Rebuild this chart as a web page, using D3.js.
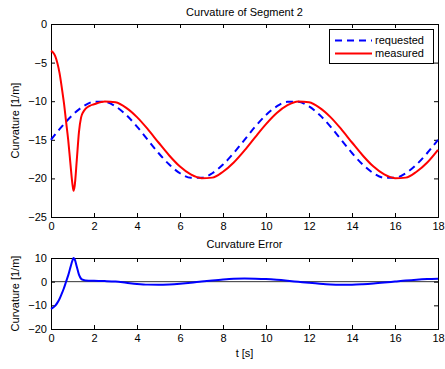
<!DOCTYPE html>
<html>
<head>
<meta charset="utf-8">
<script src="https://cdn.jsdelivr.net/npm/d3@7"></script>
<style>
  body { margin: 0; background: #fff; }
  text { font-family: "Liberation Sans", Arial, sans-serif; }
</style>
</head>
<body>
<script>
// values
const reqTime = [0, 0.5, 1, 1.5, 2, 2.5, 3, 3.5, 4, 4.5, 5, 5.5, 6, 6.5, 7, 7.5, 8, 8.5, 9,
  9.5, 10, 10.5, 11, 11.5, 12, 12.5, 13, 13.5, 14, 14.5, 15, 15.5, 16, 16.5, 17, 17.5, 18]
const requested = [-15, -13.29, -11.79, -10.67, -10.08, -10.08, -10.67, -11.79, -13.29, -15,
  -16.71, -18.21, -19.33, -19.92, -19.92, -19.33, -18.21, -16.71, -15, -13.29, -11.79, -10.67,
  -10.08, -10.08, -10.67, -11.79, -13.29, -15, -16.71, -18.21, -19.33, -19.92, -19.92, -19.33,
  -18.21, -16.71, -15]

const measTime = [0, 0.1, 0.2, 0.3, 0.4, 0.5, 0.6, 0.7, 0.8, 0.9, 1.0, 1.05, 1.1, 1.2, 1.3, 1.4,
  1.5, 1.6, 1.8, 2.0, 2.5, 3, 3.5, 4, 4.5, 5, 5.5, 6, 6.5, 7, 7.5, 8, 8.5, 9, 9.5, 10, 10.5, 11,
  11.5, 12, 12.5, 13, 13.5, 14, 14.5, 15, 15.5, 16, 16.5, 17, 17.5, 18]
const measured = [-3.5, -3.7, -4.2, -5.1, -6.4, -8.2, -10.2, -12.6, -15.0, -18.0, -20.8, -21.6,
  -21.0, -17.6, -14.0, -12.1, -11.4, -11.0, -10.6, -10.4, -10.03, -10.15, -10.86, -12.06, -13.62,
  -15.35, -17.03, -18.47, -19.49, -19.97, -19.9, -19.14, -17.94, -16.38, -14.65, -12.97, -11.53,
  -10.51, -10.03, -10.15, -10.86, -12.06, -13.62, -15.35, -17.03, -18.47, -19.49, -19.97, -19.9,
  -19.14, -17.94, -16.3]

const errTime = measTime
const curvError = [-11.5, -10.95, -10.1, -8.86, -7.22, -5.09, -2.77, -0.05, 2.65, 5.94, 9.01, 9.95,
  9.47, 6.32, 2.94, 1.24, 0.73, 0.49, 0.4, 0.35, 0.25, 0.05, -0.45, -0.95, -1.25, -1.3, -1.15,
  -0.85, -0.45, 0.05, 0.5, 0.9, 1.2, 1.3, 1.25, 1.1, 0.8, 0.4, -0.05, -0.5, -0.9, -1.2, -1.3,
  -1.28, -1.1, -0.8, -0.4, 0.05, 0.5, 0.85, 1.1, 1.25]

const xTicks = d3.range(0, 19, 2)
const topYTicks = [-25, -20, -15, -10, -5, 0]
const botYTicks = [-20, -10, 0, 10]

const W = 445, H = 369
const left = 51, right = 438

const svg = d3.select('body').append('svg')
  .attr('width', W)
  .attr('height', H)

const x = d3.scaleLinear().domain([0, 18]).range([left, right])
const yTop = d3.scaleLinear().domain([-25, 0]).range([217, 24])
const yBot = d3.scaleLinear().domain([-20, 10]).range([329, 258])

// draw one matlab-style box with ticks on all sides
function drawFrame(y, yTicks) {
  const top = y.range()[1], bottom = y.range()[0]
  const g = svg.append('g')

  g.append('g')
    .attr('transform', 'translate(0,' + bottom + ')')
    .call(d3.axisBottom(x).tickValues(xTicks).tickSize(-4).tickPadding(5).tickFormat(d3.format('d')))
  g.append('g')
    .attr('transform', 'translate(0,' + top + ')')
    .call(d3.axisTop(x).tickValues(xTicks).tickSize(-4).tickFormat(''))
  g.append('g')
    .attr('transform', 'translate(' + left + ',0)')
    .call(d3.axisLeft(y).tickValues(yTicks).tickSize(-4).tickPadding(4))
  g.append('g')
    .attr('transform', 'translate(' + right + ',0)')
    .call(d3.axisRight(y).tickValues(yTicks).tickSize(-4).tickFormat(''))

  g.selectAll('.domain').attr('stroke', '#000')
  g.selectAll('.tick line').attr('stroke', '#000')
  g.selectAll('.tick text')
    .style('font-size', '11px')
    .attr('fill', '#000')
  return g
}

drawFrame(yTop, topYTicks)
drawFrame(yBot, botYTicks)

const line = (xs, ys, y) => d3.line()
  .x((d, i) => x(xs[i]))
  .y(d => y(d))
  .curve(d3.curveMonotoneX)(ys)

// top plot lines
svg.append('path')
  .attr('d', line(reqTime, requested, yTop))
  .attr('fill', 'none')
  .attr('stroke', '#0000ff')
  .attr('stroke-width', 2)
  .attr('stroke-dasharray', '7,5')

svg.append('path')
  .attr('d', line(measTime, measured, yTop))
  .attr('fill', 'none')
  .attr('stroke', '#ff0000')
  .attr('stroke-width', 2)

// zero line in error plot
svg.append('line')
  .attr('x1', left).attr('x2', right)
  .attr('y1', yBot(0)).attr('y2', yBot(0))
  .attr('stroke', '#000')
  .attr('stroke-width', 0.8)

svg.append('path')
  .attr('d', line(errTime, curvError, yBot))
  .attr('fill', 'none')
  .attr('stroke', '#0000ff')
  .attr('stroke-width', 2)

// legend
const lg = svg.append('g')
lg.append('rect')
  .attr('x', 329.5).attr('y', 29.5)
  .attr('width', 104).attr('height', 34)
  .attr('fill', '#fff')
  .attr('stroke', '#000')
const legendItems = [
  {name: 'requested', color: '#0000ff', dash: '7,5'},
  {name: 'measured', color: '#ff0000', dash: null}
]
legendItems.forEach((d, i) => {
  const yy = 40.5 + i * 13
  lg.append('line')
    .attr('x1', 335).attr('x2', 372)
    .attr('y1', yy).attr('y2', yy)
    .attr('stroke', d.color)
    .attr('stroke-width', 2)
    .attr('stroke-dasharray', d.dash)
  lg.append('text')
    .attr('x', 375)
    .attr('y', yy)
    .attr('dy', '0.35em')
    .style('font-size', '11px')
    .text(d.name)
})

// titles and labels
function label(txt, xx, yy, rot) {
  svg.append('text')
    .attr('transform', 'translate(' + xx + ',' + yy + ')' + (rot ? 'rotate(-90)' : ''))
    .attr('text-anchor', 'middle')
    .attr('dy', '0.35em')
    .style('font-size', '11px')
    .text(txt)
}
label('Curvature of Segment 2', 244.5, 12)
label('Curvature Error', 244.5, 244.5)
label('t [s]', 244.5, 353)
label('Curvature [1/m]', 15, 120.5, true)
label('Curvature [1/m]', 15, 293.5, true)
</script>
</body>
</html>
